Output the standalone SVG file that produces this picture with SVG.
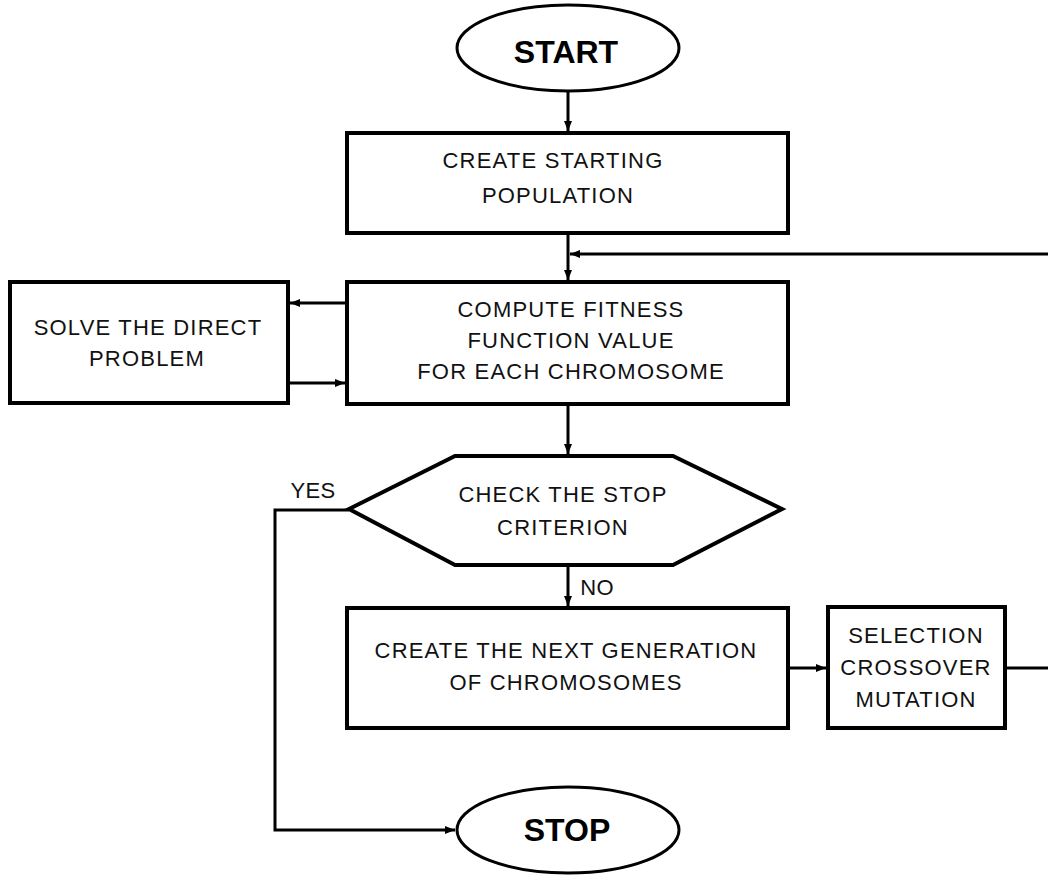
<svg xmlns="http://www.w3.org/2000/svg" width="1048" height="876" viewBox="0 0 1048 876">
<style>
.box{fill:#fff;stroke:#000;stroke-width:4}
.term{fill:#fff;stroke:#000;stroke-width:3}
.t{font-family:"Liberation Sans",Arial,sans-serif;font-size:22px;letter-spacing:1.2px;fill:#111;text-anchor:middle}
.b{font-family:"Liberation Sans",Arial,sans-serif;font-size:32px;font-weight:bold;fill:#000;text-anchor:middle}
.c{fill:none;stroke:#000;stroke-width:3}
</style>
<defs>
<marker id="ah" markerUnits="userSpaceOnUse" markerWidth="10" markerHeight="10" viewBox="0 0 10 10" refX="10" refY="5" orient="auto">
<path d="M0,1 L10,5 L0,9 Z" fill="#000"/>
</marker>
</defs>
<rect width="1048" height="876" fill="#fff"/>
<g id="connectors">
<path class="c" d="M568,91 V131" marker-end="url(#ah)"/>
<path class="c" d="M568,233 V280" marker-end="url(#ah)"/>
<path class="c" d="M1048,254 H570" marker-end="url(#ah)"/>
<path class="c" d="M347,303 H290" marker-end="url(#ah)"/>
<path class="c" d="M288,383 H345" marker-end="url(#ah)"/>
<path class="c" d="M568,404 V454" marker-end="url(#ah)"/>
<path class="c" d="M568,565 V606" marker-end="url(#ah)"/>
<path class="c" d="M788,668 H826" marker-end="url(#ah)"/>
<path class="c" d="M1005,668 H1048"/>
<path class="c" d="M349,510 H275 V830 H455" marker-end="url(#ah)"/>
<text class="t" x="313" y="498" style="letter-spacing:0.3px">YES</text>
<text class="t" x="597" y="595" style="letter-spacing:0.3px">NO</text>
</g>
<g id="start">
<ellipse class="term" cx="568" cy="48" rx="111" ry="43"/>
<text class="b" x="566" y="63">START</text>
</g>
<g id="create-pop">
<rect class="box" x="347" y="133" width="441" height="100"/>
<text class="t" x="553" y="168">CREATE STARTING</text>
<text class="t" x="558" y="203">POPULATION</text>
</g>
<g id="fitness">
<rect class="box" x="347" y="282" width="441" height="122"/>
<text class="t" x="571" y="317">COMPUTE FITNESS</text>
<text class="t" x="571" y="348">FUNCTION VALUE</text>
<text class="t" x="571" y="379">FOR EACH CHROMOSOME</text>
</g>
<g id="solve">
<rect class="box" x="10" y="282" width="278" height="121"/>
<text class="t" x="148" y="335">SOLVE THE DIRECT</text>
<text class="t" x="147" y="366">PROBLEM</text>
</g>
<g id="check">
<polygon class="box" points="349,509 455,456 673,456 782,509 673,565 455,565"/>
<text class="t" x="563" y="502">CHECK THE STOP</text>
<text class="t" x="563" y="535">CRITERION</text>
</g>
<g id="next-gen">
<rect class="box" x="347" y="608" width="441" height="120"/>
<text class="t" x="566" y="658">CREATE THE NEXT GENERATION</text>
<text class="t" x="566" y="690">OF CHROMOSOMES</text>
</g>
<g id="selection">
<rect class="box" x="828" y="607" width="177" height="121"/>
<text class="t" x="916" y="643">SELECTION</text>
<text class="t" x="916" y="675">CROSSOVER</text>
<text class="t" x="916" y="707">MUTATION</text>
</g>
<g id="stop">
<ellipse class="term" cx="568" cy="830" rx="111" ry="43"/>
<text class="b" x="567" y="841">STOP</text>
</g>
</svg>
